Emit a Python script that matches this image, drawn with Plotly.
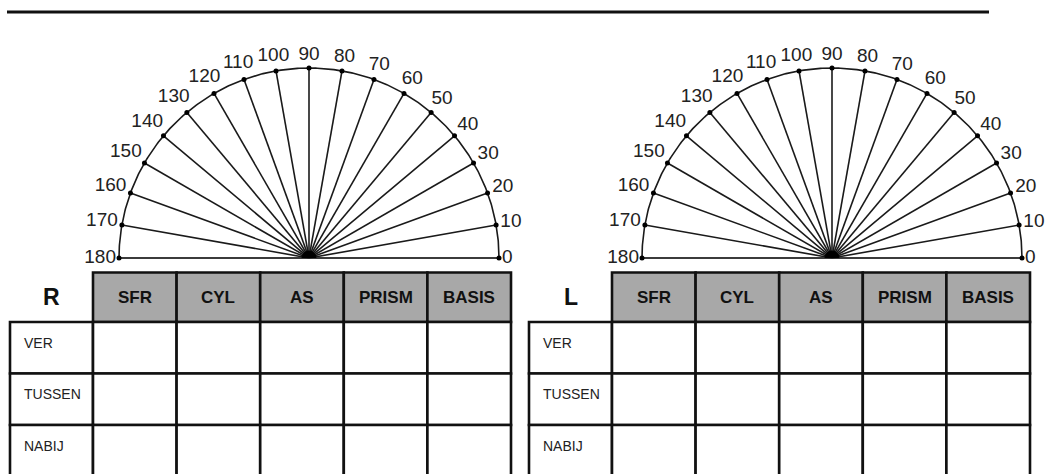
import numpy as np
import plotly.graph_objects as go

# ---- content ----
angles = list(range(0, 181, 10))
angle_labels = [str(a) for a in angles]
eyes = ["R", "L"]
columns = ["SFR", "CYL", "AS", "PRISM", "BASIS"]
rows = ["VER", "TUSSEN", "NABIJ"]

# ---- layout constants (pixel space) ----
W, H = 1045, 474
prot_cx = [309, 832]
prot_cy = 258
prot_r = 190
table_left = [10, 529]
label_col_w = 83
col_w = 83.6
header_top = 272.5
header_bot = 322
row_h = 51.5
font_deg = 19
line_col = "#1a1a1a"
header_fill = "#a8a8a8"

fig = go.Figure()
shapes = []
annotations = []

# top rule
shapes.append(dict(type="line", xref="x", yref="y", x0=7, x1=989, y0=12, y1=12,
                   line=dict(color="#111", width=3)))

for k, eye in enumerate(eyes):
    cx = prot_cx[k]
    cy = prot_cy
    R = prot_r
    th = np.radians(np.array(angles, dtype=float))
    px = cx + R * np.cos(th)
    py = cy - R * np.sin(th)

    # rays
    rx, ry = [], []
    for x_, y_ in zip(px, py):
        rx += [cx, x_, None]
        ry += [cy, y_, None]
    fig.add_trace(go.Scatter(x=rx, y=ry, mode="lines",
                             line=dict(color=line_col, width=1.6),
                             hoverinfo="skip", showlegend=False))
    # arc
    t = np.radians(np.linspace(0, 180, 361))
    fig.add_trace(go.Scatter(x=cx + R * np.cos(t), y=cy - R * np.sin(t), mode="lines",
                             line=dict(color=line_col, width=1.6),
                             hoverinfo="skip", showlegend=False))
    # baseline
    fig.add_trace(go.Scatter(x=[cx - R, cx + R], y=[cy, cy], mode="lines",
                             line=dict(color="#333", width=1.4),
                             hoverinfo="skip", showlegend=False))
    # center blob
    tb = np.radians(np.linspace(0, 180, 40))
    fig.add_trace(go.Scatter(x=cx + 7 * np.cos(tb), y=cy - 7 * np.sin(tb),
                             mode="lines", fill="toself", fillcolor="#000",
                             line=dict(color="#000", width=1),
                             hoverinfo="skip", showlegend=False))
    # tick dots
    fig.add_trace(go.Scatter(x=px, y=py, mode="markers",
                             marker=dict(color="#000", size=5),
                             hoverinfo="skip", showlegend=False))
    # degree labels
    lx, ly = [], []
    for a, lab in zip(angles, angle_labels):
        c, s = np.cos(np.radians(a)), np.sin(np.radians(a))
        w = len(lab) * 0.556 * font_deg
        h = 1.0 * font_deg
        d = R + abs(c) * w / 2 + abs(s) * h / 2 + 3
        lx.append(cx + d * c)
        ly.append(cy - d * s)
    fig.add_trace(go.Scatter(x=lx, y=ly, mode="text", text=angle_labels,
                             textposition="middle center", cliponaxis=False,
                             textfont=dict(family="Liberation Sans, Arial", size=font_deg, color="#222"),
                             hoverinfo="skip", showlegend=False))

    # ---- table ----
    x0 = table_left[k]
    xc0 = x0 + label_col_w
    lw = 2.6
    # header cells
    for j, col in enumerate(columns):
        a0 = xc0 + j * col_w
        shapes.append(dict(type="rect", xref="x", yref="y", x0=a0, x1=a0 + col_w,
                           y0=header_top, y1=header_bot, fillcolor=header_fill,
                           line=dict(color="#111", width=lw), layer="below"))
        annotations.append(dict(x=a0 + col_w / 2, y=(header_top + header_bot) / 2,
                                xref="x", yref="y", text="<b>%s</b>" % col, showarrow=False,
                                font=dict(family="Liberation Sans, Arial", size=17, color="#111"),
                                xanchor="center", yanchor="middle"))
    # eye label
    annotations.append(dict(x=x0 + label_col_w / 2, y=(header_top + header_bot) / 2,
                            xref="x", yref="y", text="<b>%s</b>" % eye, showarrow=False,
                            font=dict(family="Liberation Sans, Arial", size=23, color="#111"),
                            xanchor="center", yanchor="middle"))
    # body
    for i, rw in enumerate(rows):
        b0 = header_bot + i * row_h
        shapes.append(dict(type="rect", xref="x", yref="y", x0=x0, x1=xc0,
                           y0=b0, y1=b0 + row_h, fillcolor="white",
                           line=dict(color="#111", width=lw), layer="below"))
        annotations.append(dict(x=x0 + 12, y=b0 + row_h / 2 - 5, xref="x", yref="y",
                                text=rw, showarrow=False,
                                font=dict(family="Liberation Sans, Arial", size=14, color="#222"),
                                xanchor="left", yanchor="middle"))
        for j in range(len(columns)):
            a0 = xc0 + j * col_w
            shapes.append(dict(type="rect", xref="x", yref="y", x0=a0, x1=a0 + col_w,
                               y0=b0, y1=b0 + row_h, fillcolor="white",
                               line=dict(color="#111", width=lw), layer="below"))

fig.update_layout(
    width=W, height=H,
    margin=dict(l=0, r=0, t=0, b=0),
    paper_bgcolor="white", plot_bgcolor="white",
    xaxis=dict(range=[0, W], visible=False, fixedrange=True),
    yaxis=dict(range=[H, 0], visible=False, fixedrange=True),
    shapes=shapes, annotations=annotations,
    showlegend=False,
)
fig.write_html(
    "out.html",
    config={"displayModeBar": False, "staticPlot": True},
    post_script=("document.body.style.margin='0';"
                 "document.documentElement.style.overflow='hidden';"
                 "document.body.style.overflow='hidden';"),
)
